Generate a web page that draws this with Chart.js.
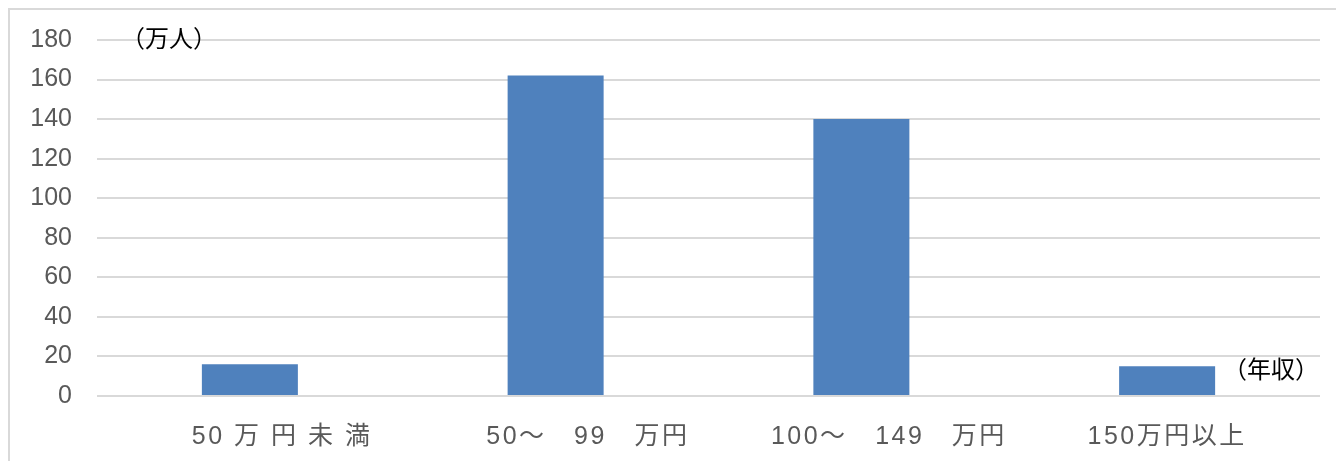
<!DOCTYPE html>
<html>
<head>
<meta charset="utf-8">
<script src="https://cdn.jsdelivr.net/npm/chart.js@4"></script>
<style>
  html, body { margin: 0; padding: 0; background: #fff; overflow: hidden; }
  #wrap { width: 1336px; height: 461px; position: relative; }
</style>
</head>
<body>
<div id="wrap"><canvas id="chart"></canvas></div>
<script>
// categories (leading spaces as in the source sheet labels)
const categories = ["\u3000\u3000 50 万 円 未 満", "\u3000\u3000 50～\u300099\u3000万円", "\u3000\u3000100～\u3000149\u3000万円", "150万円以上"];
const people = [16, 162, 140, 15];
const yTicks = [0, 20, 40, 60, 80, 100, 120, 140, 160, 180];
const yUnit = "（万人）";
const xUnit = "（年収）";

const FONT = "'Liberation Sans', 'Noto Sans CJK JP', sans-serif";

const frameAndUnits = {
    id: "frameAndUnits",
    beforeDraw(chart) {
        const ctx = chart.ctx;
        ctx.save();
        ctx.strokeStyle = "#d9d9d9";
        ctx.lineWidth = 2;
        ctx.strokeRect(9, 9, chart.width + 20, chart.height + 20);
        ctx.restore();
    },
    afterDraw(chart) {
        const ctx = chart.ctx;
        const y = chart.scales.y;
        const area = chart.chartArea;
        ctx.save();
        ctx.fillStyle = "#000";
        ctx.textBaseline = "middle";
        ctx.font = "24px " + FONT;
        ctx.textAlign = "left";
        ctx.fillText(yUnit, area.left + 24, y.getPixelForValue(180));
        ctx.textAlign = "right";
        ctx.fillText(xUnit, area.right - 1, y.getPixelForValue(12.6));
        ctx.restore();
    }
};

// the category labels are a little more spread out than the plain font
function spreadLabels(scale) {
    if (scale._spread) return;
    scale._spread = true;
    const draw = scale.drawLabels.bind(scale);
    scale.drawLabels = (area) => {
        scale.ctx.save();
        scale.ctx.letterSpacing = "2.5px";
        draw(area);
        scale.ctx.restore();
    };
}

new Chart(document.getElementById("chart"), {
    type: "bar",
    data: {
        labels: categories,
        datasets: [{
            data: people,
            backgroundColor: "#4f81bd",
            categoryPercentage: 1,
            barPercentage: 0.314
        }]
    },
    options: {
        responsive: true,
        maintainAspectRatio: false,
        animation: false,
        layout: { padding: { left: 0, right: 16, top: 38, bottom: 0 } },
        plugins: { legend: { display: false }, tooltip: { enabled: false } },
        scales: {
            x: {
                grid: { display: false, drawTicks: false },
                border: { display: false },
                ticks: {
                    color: "#595959",
                    font: { family: FONT, size: 25 },
                    padding: 26,
                    maxRotation: 0,
                    autoSkip: false
                },
                afterFit(scale) {
                    scale.height = 65;
                    spreadLabels(scale);
                }
            },
            y: {
                min: 0,
                max: 180,
                afterBuildTicks(scale) { scale.ticks = yTicks.map(v => ({ value: v })); },
                grid: { color: "#d9d9d9", lineWidth: 2, drawTicks: false },
                border: { display: false },
                ticks: {
                    color: "#595959",
                    font: { family: FONT, size: 25 },
                    padding: 25
                },
                afterFit(scale) { scale.width = 97; }
            }
        }
    },
    plugins: [frameAndUnits]
});
</script>
</body>
</html>
